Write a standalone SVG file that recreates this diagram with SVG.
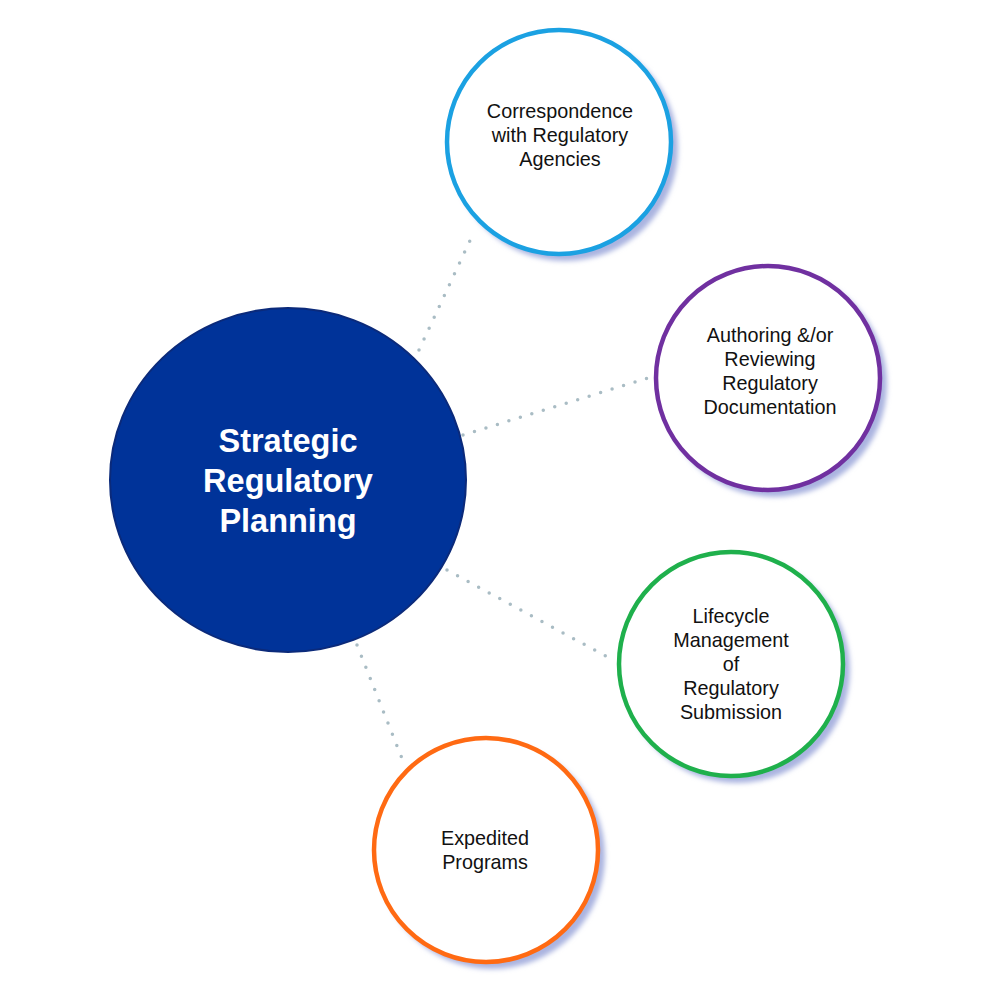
<svg xmlns="http://www.w3.org/2000/svg" width="1000" height="1000" viewBox="0 0 1000 1000">
<defs>
<filter id="sh" x="-20%" y="-20%" width="140%" height="140%">
<feGaussianBlur stdDeviation="2.5"/>
</filter>
<style>
.conn{stroke:#a9bcc4;stroke-width:3.5;stroke-linecap:round;stroke-dasharray:0 12;fill:none}
.shadow{fill:#aab4e0;filter:url(#sh)}
.ring{fill:#ffffff;stroke-width:4.5}
.lbl{font-family:"Liberation Sans",Arial,sans-serif;font-size:19.8px;fill:#111111;text-anchor:middle}
.main{font-family:"Liberation Sans",Arial,sans-serif;font-size:32.5px;font-weight:bold;fill:#ffffff;text-anchor:middle}
</style>
</defs>
<rect width="1000" height="1000" fill="#ffffff"/>
<g id="connectors">
<line class="conn" x1="419" y1="350" x2="474" y2="232"/>
<line class="conn" x1="463" y1="435" x2="648" y2="378"/>
<line class="conn" x1="447" y1="570" x2="613" y2="660"/>
<line class="conn" x1="357" y1="645" x2="405" y2="766"/>
</g>
<g id="center">
<ellipse cx="288" cy="480" rx="178" ry="172" fill="#003399" stroke="#0b2a7a" stroke-width="2"/>
<text class="main" x="288" y="452">Strategic</text>
<text class="main" x="288" y="492">Regulatory</text>
<text class="main" x="288" y="532">Planning</text>
</g>
<g id="correspondence">
<circle class="shadow" cx="565" cy="148" r="113"/>
<circle class="ring" cx="559" cy="142" r="112" stroke="#1ba1e2"/>
<text class="lbl" x="560" y="118">Correspondence</text>
<text class="lbl" x="560" y="142">with Regulatory</text>
<text class="lbl" x="560" y="166">Agencies</text>
</g>
<g id="authoring">
<circle class="shadow" cx="774" cy="384" r="113"/>
<circle class="ring" cx="768" cy="378" r="112" stroke="#7030a0"/>
<text class="lbl" x="770" y="342">Authoring &amp;/or</text>
<text class="lbl" x="770" y="366">Reviewing</text>
<text class="lbl" x="770" y="390">Regulatory</text>
<text class="lbl" x="770" y="414">Documentation</text>
</g>
<g id="lifecycle">
<circle class="shadow" cx="737" cy="670" r="113"/>
<circle class="ring" cx="731" cy="664" r="112" stroke="#1fb04c"/>
<text class="lbl" x="731" y="623">Lifecycle</text>
<text class="lbl" x="731" y="647">Management</text>
<text class="lbl" x="731" y="671">of</text>
<text class="lbl" x="731" y="695">Regulatory</text>
<text class="lbl" x="731" y="719">Submission</text>
</g>
<g id="expedited">
<circle class="shadow" cx="492" cy="856" r="113"/>
<circle class="ring" cx="486" cy="850" r="112" stroke="#ff6a13"/>
<text class="lbl" x="485" y="845">Expedited</text>
<text class="lbl" x="485" y="869">Programs</text>
</g>
</svg>
